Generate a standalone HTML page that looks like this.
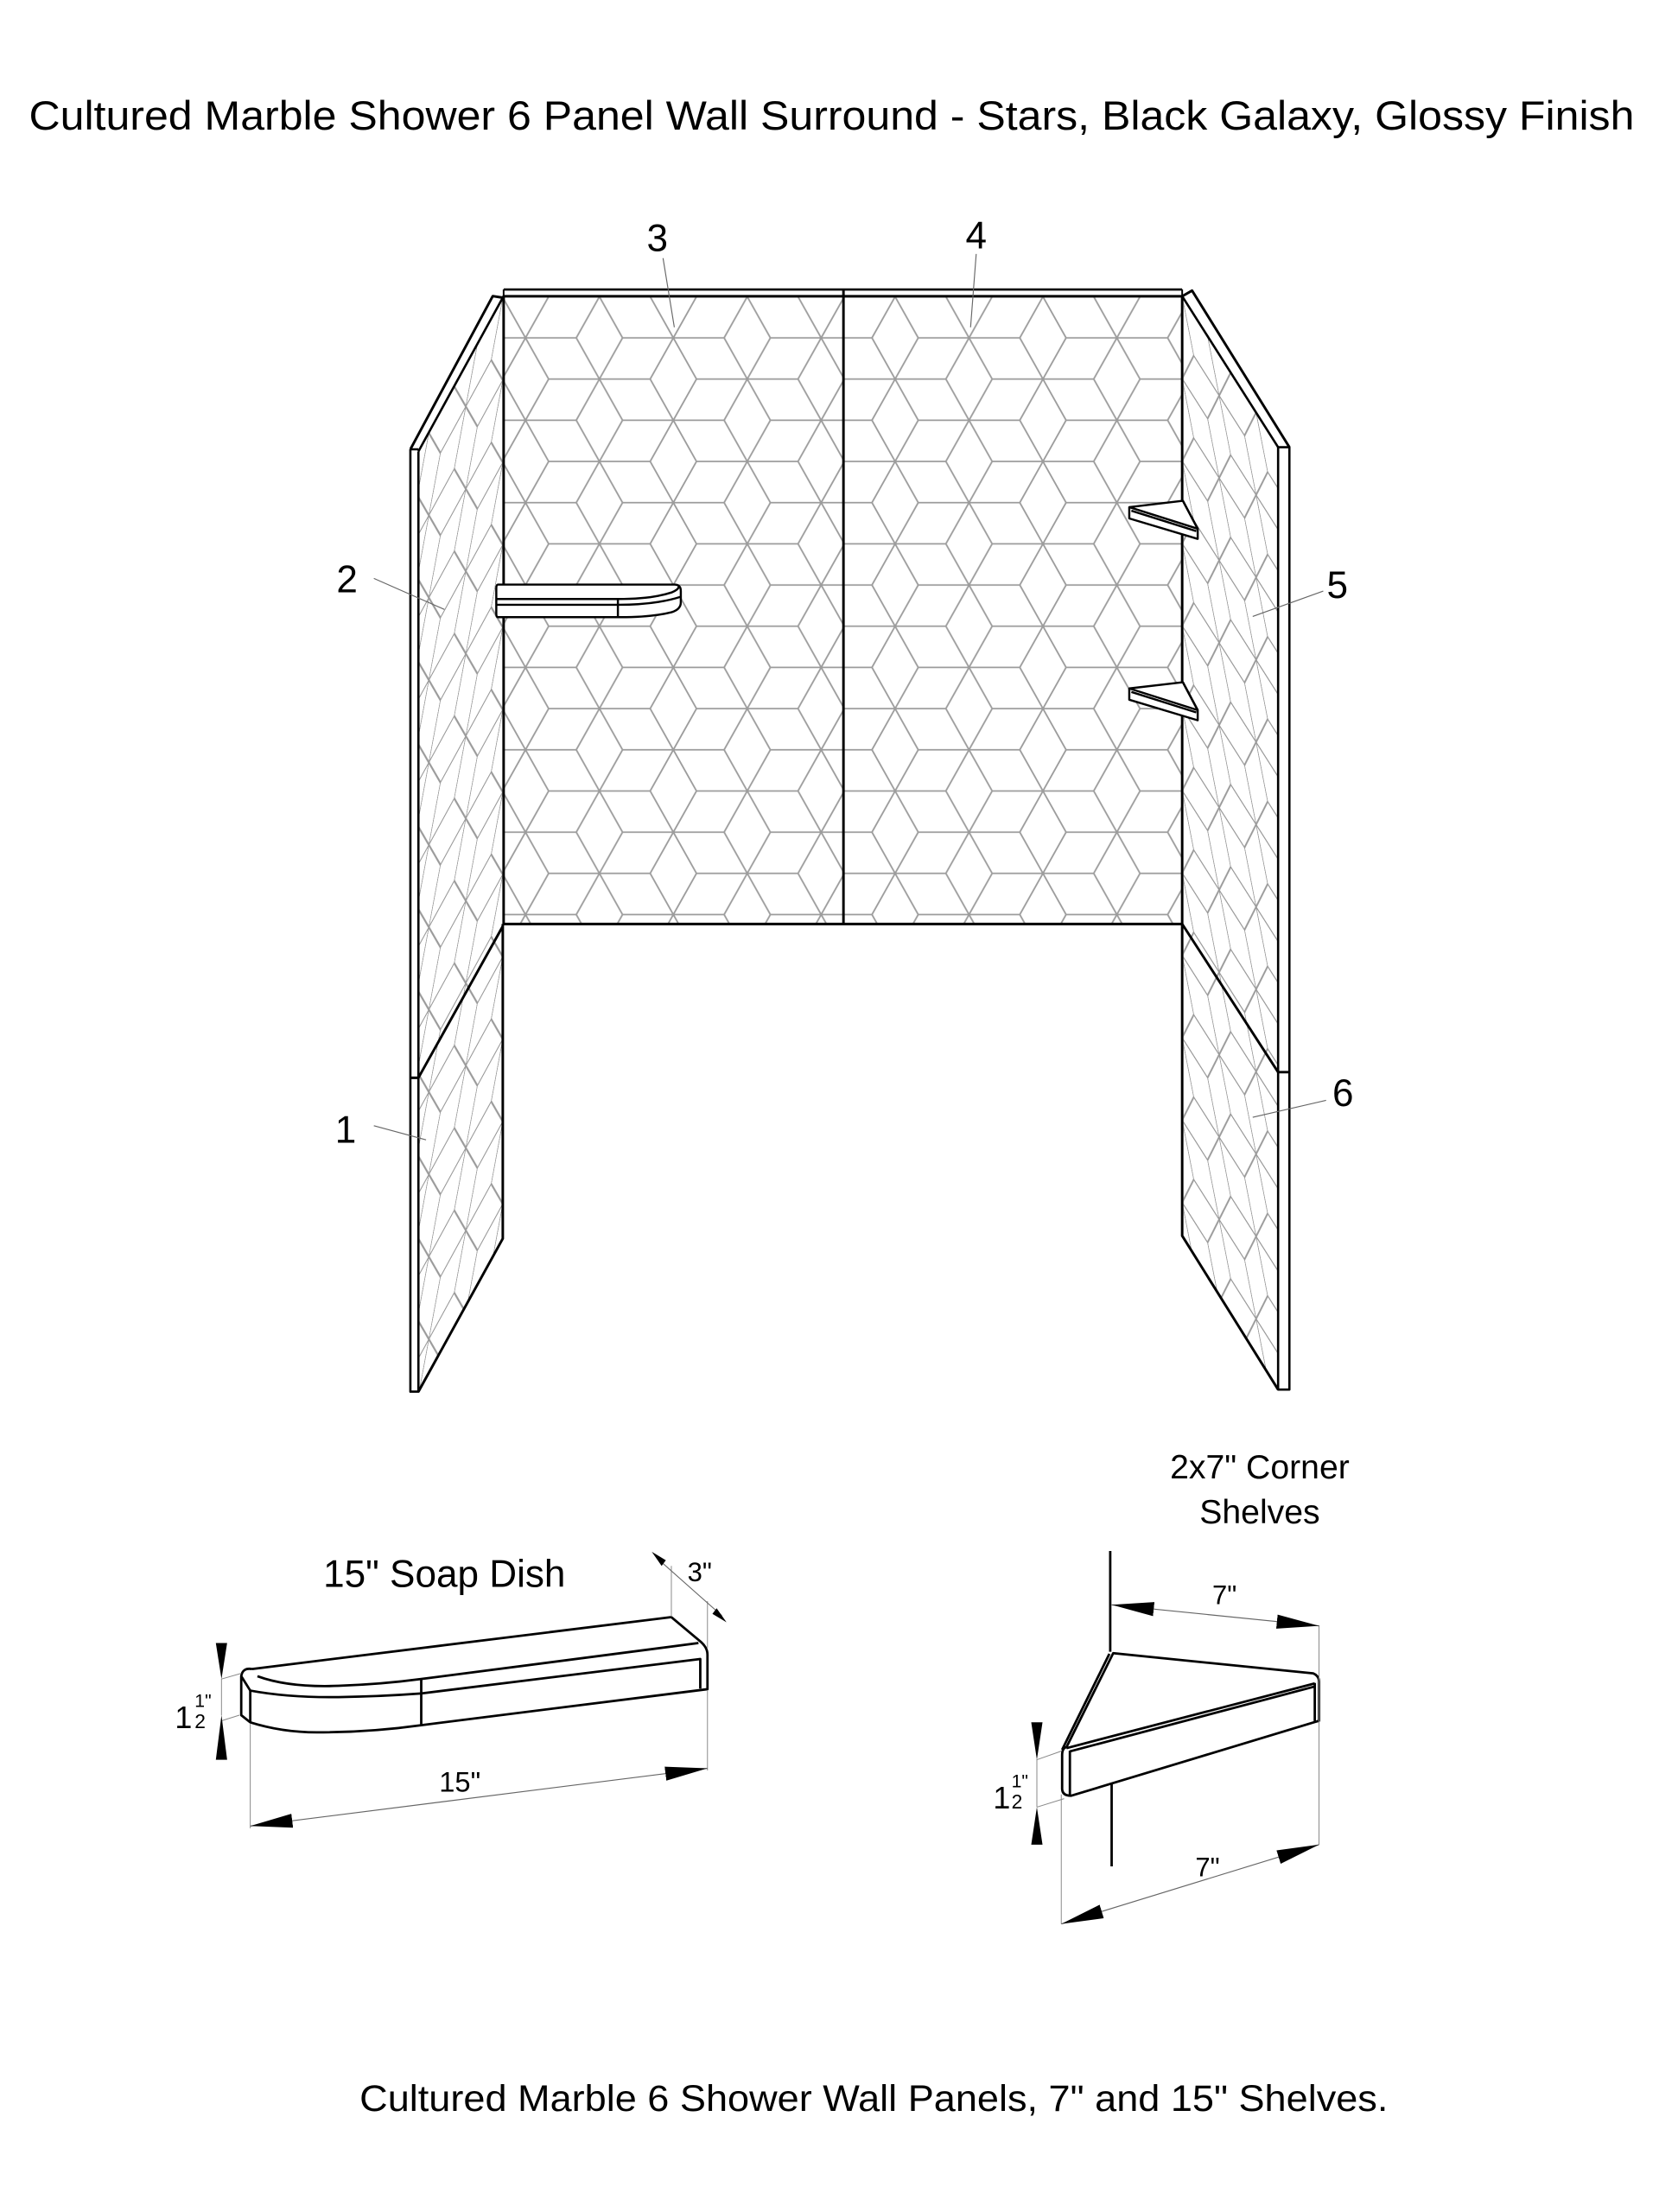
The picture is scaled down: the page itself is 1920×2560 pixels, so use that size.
<!DOCTYPE html>
<html><head><meta charset="utf-8"><style>
html,body{margin:0;padding:0;background:#fff;}
svg{display:block;}
text{font-family:"Liberation Sans",Arial,sans-serif;fill:#000;}
</style></head><body>
<svg width="1920" height="2560" viewBox="0 0 1176 1568" xmlns="http://www.w3.org/2000/svg">
<defs>
  <path id="st" d="M0 0h36M0 0h-36M0 0l16.4 29.2M0 0l-16.4 29.2M0 0l16.4 -29.2M0 0l-16.4 -29.2"/>
  <pattern id="pBack" patternUnits="userSpaceOnUse" x="424.9" y="210.3" width="104.8" height="58.4">
    <g stroke="#9c9c9c" stroke-width="1.1" fill="none">
      <use href="#st" x="0" y="0"/><use href="#st" x="104.8" y="0"/>
      <use href="#st" x="52.4" y="29.2"/>
      <use href="#st" x="0" y="58.4"/><use href="#st" x="104.8" y="58.4"/>
    </g>
  </pattern>
  <pattern id="pL" patternUnits="userSpaceOnUse" width="104.8" height="58.4" patternTransform="matrix(-0.5,0.915,0,1,356.4,211)">
    <g stroke="#9a9a9a" stroke-width="1.3" fill="none">
      <use href="#st" x="0" y="0"/><use href="#st" x="104.8" y="0"/>
      <use href="#st" x="52.4" y="29.2"/>
      <use href="#st" x="0" y="58.4"/><use href="#st" x="104.8" y="58.4"/>
    </g>
  </pattern>
  <pattern id="pR" patternUnits="userSpaceOnUse" width="104.8" height="58.4" patternTransform="matrix(0.5,0.787,0,1,838,210)">
    <g stroke="#9a9a9a" stroke-width="1.3" fill="none">
      <use href="#st" x="0" y="0"/><use href="#st" x="104.8" y="0"/>
      <use href="#st" x="52.4" y="29.2"/>
      <use href="#st" x="0" y="58.4"/><use href="#st" x="104.8" y="58.4"/>
    </g>
  </pattern>
  <marker id="ar" markerUnits="userSpaceOnUse" markerWidth="30" markerHeight="12" refX="24" refY="4" orient="auto-start-reverse" viewBox="0 0 24 8">
    <path d="M0 0L24 4L0 8z" fill="#000"/>
  </marker>
</defs>

<!-- Title -->
<text x="20.5" y="91.9" font-size="29" textLength="1138" lengthAdjust="spacingAndGlyphs">Cultured Marble Shower 6 Panel Wall Surround - Stars, Black Galaxy, Glossy Finish</text>

<!-- Back panels pattern -->
<rect x="357" y="210" width="481" height="445" fill="url(#pBack)"/>
<!-- Side panel patterns -->
<polygon points="296.6,320 356.4,211 356.4,878 296.6,986.5" fill="url(#pL)"/>
<polygon points="839,210 906,317 906,985 839,876" fill="url(#pR)"/>

<g stroke="#000" fill="none" stroke-linejoin="round">
  <!-- back panel -->
  <path d="M357 210H838V655H357Z" stroke-width="1.8"/>
  <path d="M357 205.2H838" stroke-width="1.6"/>
  <path d="M357 205.2V210M838 205.2V210" stroke-width="1.2"/>
  <path d="M597.9 205.2V655" stroke-width="1.8"/>
  <!-- left panel -->
  <path d="M290.9 318.5L349.3 209.9L356.4 211" stroke-width="1.8"/>
  <path d="M296.6 320L356.4 211" stroke-width="1.6"/>
  <path d="M290.9 318.5H296.6M290.9 318.5V986.5H296.6V320" stroke-width="1.6"/>
  <path d="M290.9 764H296.6L356.4 656.6" stroke-width="1.8"/>
  <path d="M356.4 655V878L296.6 986.5" stroke-width="1.8"/>
  <!-- right panel -->
  <path d="M838 210L845 206L914 317" stroke-width="1.8"/>
  <path d="M838 210L906 317" stroke-width="1.6"/>
  <path d="M906 317H914V985H906V317" stroke-width="1.6"/>
  <path d="M838 655L906 760H914" stroke-width="1.8"/>
  <path d="M838 655V876L906 985" stroke-width="1.8"/>

  <!-- soap dish on wall -->
  <g stroke-width="1.5" fill="#fff">
    <path d="M353 414.4H478Q482.6 414.4 482.6 419V427Q482.6 432 476 434Q462 437.5 440 437.5H353Q351.8 437.5 351.8 435V417Q351.8 414.4 353 414.4Z"/>
    <path d="M351.8 424.6H438Q462 424.6 476 420Q481 418 481 416" fill="none"/>
    <path d="M351.8 428.7H438Q465 428.7 482.6 423" fill="none"/>
    <path d="M438 424.6V437.5" fill="none"/>
  </g>
  <!-- corner shelves -->
  <g stroke-width="1.5" fill="#fff">
    <polygon points="800.5,359.5 838.5,355 849,374.8 849,382 800.5,367.5"/>
    <path d="M800.5 359.5L849 374.8M802 362L848 376.5M838.5 355L849 374.8" fill="none"/>
    <polygon points="800.5,488 838.5,483.6 849,503.4 849,510.6 800.5,496"/>
    <path d="M800.5 488L849 503.4M802 490.5L848 505M838.5 483.6L849 503.4" fill="none"/>
  </g>

  <!-- leader lines -->
  <g stroke="#666" stroke-width="0.7">
    <path d="M470 183L478 232"/>
    <path d="M692 180L688 232"/>
    <path d="M265 410L315 432"/>
    <path d="M938 419L888 437"/>
    <path d="M265 798L302 808"/>
    <path d="M940 780L888 792"/>
  </g>
</g>

<g font-size="27" text-anchor="middle">
  <text x="466" y="178">3</text>
  <text x="692" y="176">4</text>
  <text x="246" y="420">2</text>
  <text x="948" y="424">5</text>
  <text x="245" y="810">1</text>
  <text x="952" y="784">6</text>
</g>

<!-- Soap dish detail -->
<text x="315" y="1125" font-size="27" text-anchor="middle">15" Soap Dish</text>
<g stroke="#000" fill="none" stroke-width="1.7" stroke-linejoin="round">
  <path d="M178.6 1183.1L475.9 1146.3L497 1164Q501.5 1168 501.5 1173V1197.4L298.6 1222.9Q262 1228 224.6 1228Q200 1228 177.4 1220.9L171 1215.8V1188.2Q172 1182 178.6 1183.1"/>
  <path d="M182.5 1188.2Q205 1196.4 240 1195Q270 1194 298.6 1190.2L495.1 1164.7"/>
  <path d="M171 1188.2L177.4 1198.4Q205 1203.5 240 1203Q270 1202.5 298.6 1200.4L496.4 1176V1197"/>
  <path d="M177.4 1198.4V1220.9M298.6 1190.2V1222.9"/>
</g>
<g stroke="#888" stroke-width="0.6" fill="none">
  <path d="M157 1190.2L171 1186.2M157 1219.8L169.7 1215.8"/>
  <path d="M177.4 1222V1296M501.5 1198V1255"/>
  <path d="M475.9 1110V1146M501.5 1135V1168"/>
  <path d="M157 1190V1216"/>
</g>
<path d="M177.4 1294.4L501.5 1253.5" stroke="#666" stroke-width="0.7" marker-start="url(#ar)" marker-end="url(#ar)"/>
<path d="M465.7 1104.5L511.7 1145.3" stroke="#666" stroke-width="0.7"/>
<polygon points="462,1100 472,1106 469,1110" fill="#000"/>
<polygon points="515,1150 505,1144 508,1140" fill="#000"/>
<polygon points="153,1164.7 161,1164.7 157,1190.2" fill="#000"/>
<polygon points="157,1215.8 153,1247.4 161,1247.4" fill="#000"/>
<text x="326" y="1270" font-size="20" text-anchor="middle">15"</text>
<text x="496" y="1121" font-size="19" text-anchor="middle">3"</text>
<text x="124" y="1225" font-size="22">1</text>
<text x="138" y="1210" font-size="13">1"</text>
<text x="138" y="1225" font-size="14">2</text>

<!-- Corner shelf detail -->
<text x="893" y="1048" font-size="24" text-anchor="middle">2x7" Corner</text>
<text x="893" y="1080" font-size="24" text-anchor="middle">Shelves</text>
<g stroke="#000" fill="none" stroke-width="1.7" stroke-linejoin="round">
  <path d="M787 1099.4V1170.9M788 1264.8V1323"/>
  <path d="M789.1 1171.9L930.9 1186.2Q935 1188 935 1192V1219.8L759.4 1272.9Q753 1273 752.9 1268V1244Q753 1239 756 1238.5L789.1 1171.9Z"/>
  <path d="M786.4 1172.3L752.9 1240.3"/>
  <path d="M756 1239.2L932 1193.3M758.4 1241.5L932 1195.5"/>
  <path d="M758.4 1241V1272.5M932 1193V1220"/>
</g>
<g stroke="#888" stroke-width="0.6" fill="none">
  <path d="M935 1152V1307.6M752.3 1272V1363.8"/>
  <path d="M735 1247.4L752.3 1241.3M735 1281L754.3 1275M735 1247V1281"/>
</g>
<path d="M788 1137.6L935 1152.5" stroke="#666" stroke-width="0.7" marker-start="url(#ar)" marker-end="url(#ar)"/>
<path d="M752.3 1363.8L935 1307.6" stroke="#666" stroke-width="0.7" marker-start="url(#ar)" marker-end="url(#ar)"/>
<polygon points="731,1220.9 739,1220.9 735,1247.4" fill="#000"/>
<polygon points="735,1281 731,1307.6 739,1307.6" fill="#000"/>
<text x="868" y="1137" font-size="19" text-anchor="middle">7"</text>
<text x="856" y="1330" font-size="19" text-anchor="middle">7"</text>
<text x="704" y="1282" font-size="22">1</text>
<text x="717" y="1267" font-size="13">1"</text>
<text x="717" y="1282" font-size="14">2</text>

<!-- Footer -->
<text x="254.9" y="1496.5" font-size="26" textLength="729" lengthAdjust="spacingAndGlyphs">Cultured Marble 6 Shower Wall Panels,  7" and 15" Shelves.</text>
</svg>
</body></html>
